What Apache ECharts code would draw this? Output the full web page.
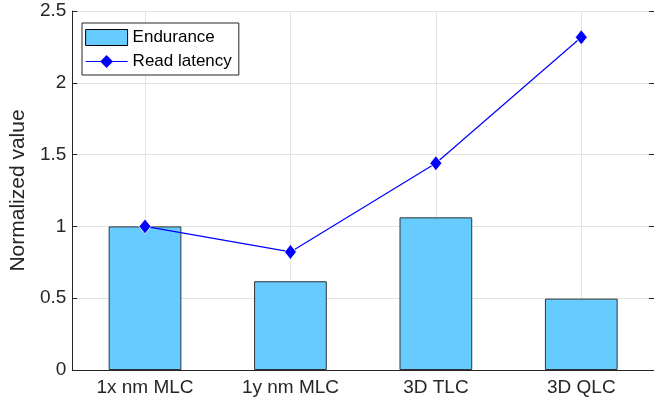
<!DOCTYPE html>
<html>
<head>
<meta charset="utf-8">
<script src="https://cdn.jsdelivr.net/npm/echarts@6/dist/echarts.min.js"></script>
<style>
  html, body { margin: 0; padding: 0; background: #fff; }
  #chart { width: 654px; height: 405px; }
</style>
</head>
<body>
<div id="chart"></div>
<script>
// data
const categories = ['1x nm MLC', '1y nm MLC', '3D TLC', '3D QLC'];
const endurance = [1.0, 0.618, 1.063, 0.497];
const readLatency = [1.0, 0.822, 1.44, 2.317];
const yTicks = [0, 0.5, 1, 1.5, 2, 2.5];

const axisColor = '#262626';
const gridColor = '#e3e3e3';
const font = 'Liberation Sans';

const chart = echarts.init(document.getElementById('chart'));

const option = {
  animation: false,
  textStyle: { fontFamily: font, color: axisColor },
  grid: { left: 68, right: -3, top: 11, bottom: 35 },
  legend: {
    orient: 'vertical',
    left: 82,
    top: 23,
    padding: [6, 7, 5, 3],
    itemGap: 7,
    itemWidth: 42,
    itemHeight: 16,
    backgroundColor: '#fff',
    borderColor: axisColor,
    borderWidth: 1,
    borderRadius: 0,
    textStyle: { fontFamily: font, fontSize: 17, color: '#000' },
    data: [
      { name: 'Endurance', icon: 'rect', itemStyle: { borderColor: '#000', borderWidth: 1 } },
      { name: 'Read latency', itemStyle: { borderWidth: 0 }, lineStyle: { width: 1.2 } }
    ]
  },
  xAxis: [
    {
      type: 'category',
      data: categories,
      boundaryGap: true,
      axisLine: { lineStyle: { color: axisColor, width: 1 } },
      axisTick: { inside: true, alignWithLabel: true, length: 5, lineStyle: { color: axisColor } },
      axisLabel: { fontSize: 19, color: axisColor, margin: 8, fontFamily: font },
      splitLine: { show: true, alignWithLabel: true, lineStyle: { color: gridColor, width: 1 } }
    },
    {
      type: 'category',
      data: categories,
      position: 'top',
      boundaryGap: true,
      axisLine: { lineStyle: { color: axisColor, width: 1 } },
      axisTick: { inside: true, alignWithLabel: true, length: 5, lineStyle: { color: axisColor } },
      axisLabel: { show: false },
      splitLine: { show: false }
    }
  ],
  yAxis: [
    {
      type: 'value',
      min: 0,
      max: 2.5,
      interval: 0.5,
      name: 'Normalized value',
      nameLocation: 'middle',
      nameGap: 40,
      nameTextStyle: { fontSize: 21, color: axisColor, fontFamily: font },
      axisLine: { show: true, lineStyle: { color: axisColor, width: 1 } },
      axisTick: { show: true, inside: true, length: 5, lineStyle: { color: axisColor } },
      axisLabel: {
        fontSize: 19, color: axisColor, margin: 6, fontFamily: font,
        formatter: v => yTicks.includes(v) ? String(v) : ''
      },
      splitLine: { show: true, lineStyle: { color: gridColor, width: 1 } }
    },
    {
      type: 'value',
      min: 0,
      max: 2.5,
      interval: 0.5,
      position: 'right',
      axisLine: { show: true, lineStyle: { color: axisColor, width: 1 } },
      axisTick: { show: true, inside: true, length: 5, lineStyle: { color: axisColor } },
      axisLabel: { show: false },
      splitLine: { show: false }
    }
  ],
  series: [
    {
      name: 'Endurance',
      type: 'bar',
      data: endurance,
      barWidth: '50%',
      itemStyle: { color: '#66ccff', borderColor: '#333333', borderWidth: 1 },
      z: 2
    },
    {
      name: 'Read latency',
      type: 'line',
      data: readLatency,
      symbol: 'diamond',
      symbolSize: [12, 15],
      lineStyle: { color: '#0000ff', width: 1.2 },
      itemStyle: { color: '#0000ff', borderColor: '#ffffff', borderWidth: 0.8 },
      z: 3
    }
  ]
};

chart.setOption(option);
</script>
</body>
</html>
